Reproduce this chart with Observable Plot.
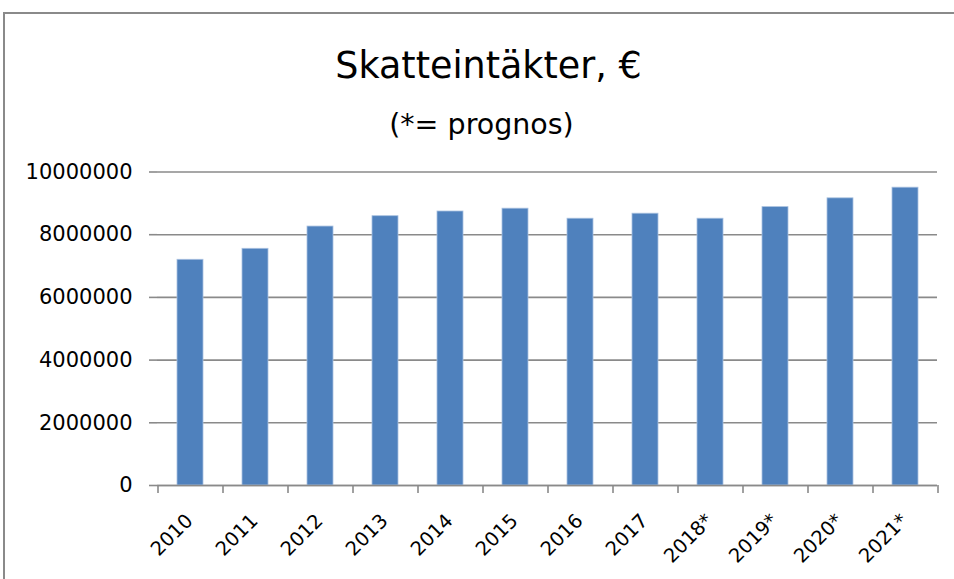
<!DOCTYPE html>
<html>
<head>
<meta charset="utf-8">
<script src="https://cdn.jsdelivr.net/npm/d3@7"></script>
<script src="https://cdn.jsdelivr.net/npm/@observablehq/plot@0.6"></script>
<style>
  body { margin: 0; background: #fff; }
  #wrap { position: relative; width: 954px; height: 579px; overflow: hidden; }
  #frame { position: absolute; left: 3px; top: 12px; width: 1000px; height: 1000px;
           border-left: 2px solid #8a8a8a; border-top: 2px solid #8a8a8a; }
  #chart { position: absolute; left: 0; top: 0; }
</style>
</head>
<body>
<div id="wrap"><div id="frame"></div><div id="chart"></div></div>
<script>
const title = "Skatteintäkter, €";
const subtitle = "(*= prognos)";
const years = ["2010","2011","2012","2013","2014","2015","2016","2017","2018*","2019*","2020*","2021*"];
const values = [7200000, 7550000, 8260000, 8590000, 8740000, 8830000, 8510000, 8670000, 8510000, 8880000, 9160000, 9500000];
const yTicks = [0, 2000000, 4000000, 6000000, 8000000, 10000000];

const data = years.map((y, i) => ({year: y, value: values[i]}));
const font = "DejaVu Sans, sans-serif";

const chart = Plot.plot({
  width: 954,
  height: 579,
  marginLeft: 157,
  marginRight: 17,
  marginTop: 171.5,
  marginBottom: 94,
  style: {fontFamily: font, fontSize: "21px", color: "#000", background: "transparent"},
  x: {domain: years, paddingInner: 0.6, paddingOuter: 0.3, label: null, axis: null},
  y: {domain: [0, 10000000], label: null, axis: null},
  marks: [
    Plot.gridY(yTicks, {stroke: "#8a8a8a", strokeOpacity: 1, strokeWidth: 1.6}),
    Plot.axisY(yTicks, {tickSize: 8, tickPadding: 17, tickFormat: d => String(d), stroke: "#8a8a8a", strokeWidth: 1.6, fontSize: 21, fill: "#000", label: null}),
    Plot.barY(data, {x: "year", y: "value", fill: "#4f81bd", stroke: "#a9c1e0", strokeWidth: 0.8}),
    Plot.ruleX([0], {frameAnchor: "left", stroke: "#8a8a8a", strokeWidth: 1.6}),
    Plot.ruleY([0], {stroke: "#8a8a8a", strokeWidth: 1.6}),
    Plot.ruleX(years, {x: d => d, y1: 0, y2: 0, insetBottom: -8, dx: -32.5, stroke: "#8a8a8a", strokeWidth: 1.6}),
    Plot.ruleX([years[years.length - 1]], {x: d => d, y1: 0, y2: 0, insetBottom: -8, dx: 32.5, stroke: "#8a8a8a", strokeWidth: 1.6}),
    Plot.text(years, {x: d => d, frameAnchor: "bottom", text: d => d, rotate: -45, textAnchor: "end", lineAnchor: "middle", dx: -1, dy: 32, fontSize: 19.5, fill: "#000"}),
    Plot.text([title], {frameAnchor: "top", dx: -59, dy: -94, lineAnchor: "bottom", fontSize: 36.5, fill: "#000"}),
    Plot.text([subtitle], {frameAnchor: "top", dx: -66, dy: -38, lineAnchor: "bottom", fontSize: 28.5, fill: "#000"})
  ]
});
document.getElementById("chart").appendChild(chart);
</script>
</body>
</html>
